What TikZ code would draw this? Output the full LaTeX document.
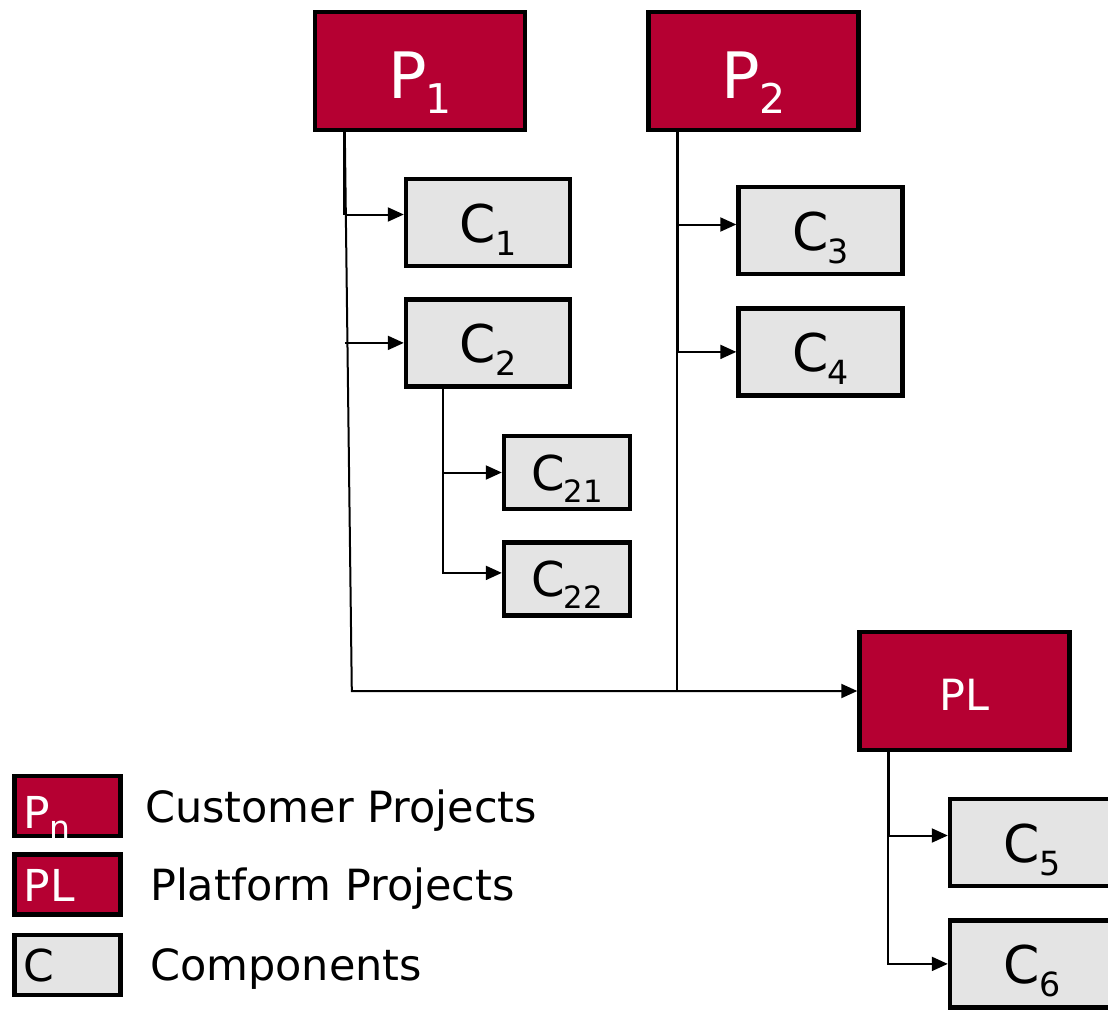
\documentclass[tikz,border=0pt]{standalone}
\usepackage{fontspec}
\setmainfont{DejaVu Sans}
\usetikzlibrary{positioning,arrows.meta}
\definecolor{projred}{RGB}{181,0,50}
\definecolor{compgray}{RGB}{228,228,228}
\newcommand{\idx}[2][0.64]{\kern-0.02em\raisebox{-0.25em}{\scalebox{#1}{#2}}}

\begin{document}
\begin{tikzpicture}[x=0.5pt, y=-0.5pt,
	proj/.style = {draw, line width=2.2pt, fill=projred, text=white, minimum width=105pt, minimum height=59pt, inner sep=0pt, text height=27pt, text depth=0pt, font=\fontsize{32}{36}\selectfont},
	comp/.style = {draw, line width=2.2pt, fill=compgray, minimum width=82pt, minimum height=43.5pt, inner sep=0pt, text height=19.5pt, text depth=0pt, font=\fontsize{26}{30}\selectfont},
	subcomp/.style = {comp, minimum width=63pt, minimum height=36.5pt, text height=18pt, font=\fontsize{24}{28}\selectfont},
	key/.style = {draw, line width=2.2pt, text width=44pt, align=left, inner xsep=4.5pt, inner ysep=0pt, minimum height=30pt, text height=17pt, text depth=0pt, font=\fontsize{22}{24}\selectfont},
	keytext/.style = {inner sep=0pt, text depth=0pt, font=\fontsize{21.5}{24}\selectfont},
	link/.style = {line width=1pt},
	trunk/.style = {line width=1.5pt},
	arr/.style = {link, -{Triangle[length=8pt,width=7pt]}}]
			\useasboundingbox (0,0) rectangle (1108,1011);
			\node[proj] (P1) at (420,71) {P\idx{1}};
			\node[proj] (P2) [right=59.5pt of P1] {P\idx{2}};
			\node[comp] (C1) at (488,222.5) {C\idx{1}};
			\node[comp] (C2) [below=14.5pt of C1] {C\idx{2}};
			\node[comp] (C3) at (820.5,230.5) {C\idx{3}};
			\node[comp] (C4) [below=15pt of C3] {C\idx{4}};
			\node[subcomp] (C21) at (567,472.5) {C\idx{21}};
			\node[subcomp] (C22) [below=14.5pt of C21] {C\idx{22}};
			\node[proj, text height=19pt, font=\fontsize{21.5}{24}\selectfont] (PL) at (964.5,691) {PL};
			\node[comp] (C5) at (1032,842.5) {C\idx{5}};
			\node[comp] (C6) [below=15pt of C5] {C\idx{6}};
			\node[key, fill=projred, text=white, text height=22pt] (kP) at (67.5,806) {P\idx[0.75]{n}};
			\node[key, fill=projred, text=white] (kL) [below=7pt of kP] {PL};
			\node[key, fill=compgray] (kC) [below=8pt of kL] {C};
			\node[keytext] (tP) [right=11pt of kP] {Customer Projects};
			\node[keytext] (tL) [right=13.5pt of kL] {Platform Projects};
			\node[keytext] (tC) [right=13.5pt of kC] {Components};
			\coordinate (t1) at ([xshift=16pt]P1.south west);
			\coordinate (t1b) at ([xshift=3.5pt]t1 |- PL.west);
			\coordinate (t2) at ([xshift=15.5pt]P2.south west);
			\coordinate (t3) at ([xshift=19.5pt]C2.south west);
			\coordinate (t4) at ([xshift=15.5pt]PL.south west);
			\coordinate (c1in) at ([yshift=4pt]C1.west);
			\coordinate (c3in) at ([yshift=3pt]C3.west);
			\coordinate (c22in) at ([yshift=3pt]C22.west);
			\coordinate (c5in) at ([yshift=3.5pt]C5.west);
			\draw[trunk] (t1) -- (t1 |- c1in);
			\draw[trunk] (t2) -- (t2 |- C4.west);
			\draw[trunk] (t4) -- (t4 |- c5in);
			\draw[arr] (t1) -- (t1b) -- (PL.west);
			\draw[arr] (t1 |- c1in) -- (c1in);
			\draw[arr] (t1 |- C2.west) -- (C2.west);
			\draw[link] (t2) -- (t2 |- PL.west);
			\draw[arr] (t2 |- c3in) -- (c3in);
			\draw[arr] (t2 |- C4.west) -- (C4.west);
			\draw[arr] (t3) |- (c22in);
			\draw[arr] (t3 |- C21.west) -- (C21.west);
			\draw[arr] (t4) |- (C6.west);
			\draw[arr] (t4 |- c5in) -- (c5in);
\end{tikzpicture}
\end{document}
